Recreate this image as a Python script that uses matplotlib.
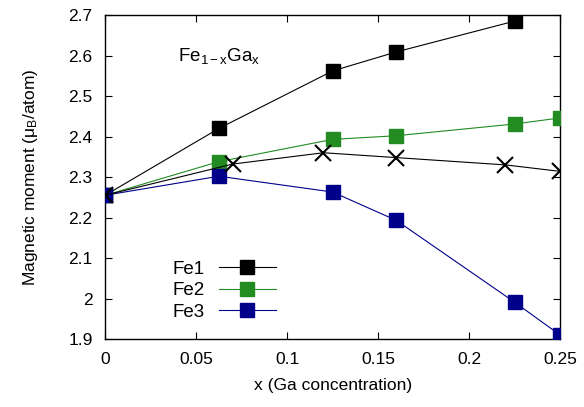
import matplotlib
matplotlib.use("Agg")
import matplotlib.pyplot as plt
from matplotlib.ticker import FormatStrFormatter, MultipleLocator

plt.rcParams['font.family'] = ['Liberation Sans', 'DejaVu Sans']
plt.rcParams['mathtext.fontset'] = 'custom'
plt.rcParams['mathtext.rm'] = 'Liberation Sans'
plt.rcParams['mathtext.it'] = 'Liberation Sans'

# dados
x_fe = [0, 0.0625, 0.125, 0.16, 0.225, 0.25]
fe1 = [2.255, 2.42, 2.562, 2.609, 2.685]
fe2 = [2.255, 2.338, 2.393, 2.402, 2.431, 2.446]
fe3 = [2.255, 2.302, 2.263, 2.193, 1.991, 1.91]

x_cruz = [0, 0.07, 0.12, 0.16, 0.22, 0.25]
cruz = [2.255, 2.332, 2.36, 2.348, 2.33, 2.314]

fig = plt.figure(figsize=(5.84, 4.07), dpi=100)
ax = fig.add_axes([0.18, 0.167, 0.779, 0.796])

ax.plot(x_fe[:5], fe1, '-s', color='black', lw=0.8, ms=10.5, label='Fe1', zorder=3)
ax.plot(x_fe, fe2, '-s', color='#228b22', lw=0.8, ms=10.5, label='Fe2', zorder=3)
ax.plot(x_fe, fe3, '-s', color='#00008b', lw=0.8, ms=10.5, label='Fe3', zorder=3)
ax.plot(x_cruz, cruz, '-x', color='black', lw=0.8, ms=11, mew=1.5, zorder=4)

ax.set_xlim(0, 0.25)
ax.set_ylim(1.9, 2.7)
ax.xaxis.set_major_locator(MultipleLocator(0.05))
ax.yaxis.set_major_locator(MultipleLocator(0.1))
ax.xaxis.set_major_formatter(FormatStrFormatter('%g'))
ax.yaxis.set_major_formatter(FormatStrFormatter('%g'))
ax.tick_params(direction='in', top=True, right=True, length=5, labelsize=12.5)
ax.tick_params(axis='x', pad=9)
ax.tick_params(axis='y', pad=9)
for s in ax.spines.values():
    s.set_linewidth(1.0)

ax.set_xlabel('x (Ga concentration)', fontsize=12.5, labelpad=8)
ax.set_ylabel(r'Magnetic moment ($\mu_B$/atom)', fontsize=12.5, labelpad=20)

ax.text(0.04, 2.6, r'Fe$_{1-x}$Ga$_x$', fontsize=13.5, va='center')

ax.legend(loc='lower left', bbox_to_anchor=(0.11, 0.005), frameon=False,
          markerfirst=False, numpoints=1, handlelength=3.0, fontsize=13.5,
          labelspacing=0.22, handletextpad=0.8)

fig.savefig('out.png', dpi=100)
